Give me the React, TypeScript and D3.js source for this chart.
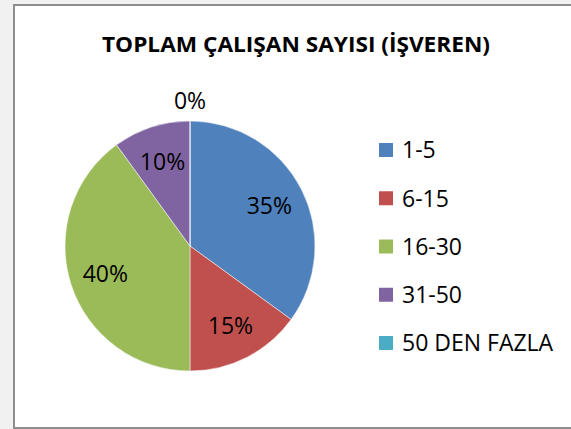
import React from "react";
import * as d3 from "d3";

const categories = ["1-5", "6-15", "16-30", "31-50", "50 DEN FAZLA"];
const values = [35, 15, 40, 10, 0];
const colors = ["#4F81BD", "#C0504D", "#9BBB59", "#8064A2", "#4BACC6"];
const title = "TOPLAM ÇALIŞAN SAYISI (İŞVEREN)";

const W = 571;
const H = 429;
const cx = 190;
const cy = 246;
const R = 125;
const FONT = "'Open Sans', 'Noto Sans', sans-serif";

export default function App() {
  const pie = d3
    .pie<number>()
    .sort(null)
    .value((d) => d)
    .startAngle(0)
    .endAngle(2 * Math.PI);
  const arcs = pie(values);
  const arc = d3.arc<d3.PieArcDatum<number>>().innerRadius(0).outerRadius(R);
  const labelArc = d3
    .arc<d3.PieArcDatum<number>>()
    .innerRadius(89)
    .outerRadius(89);
  const outerArc = d3
    .arc<d3.PieArcDatum<number>>()
    .innerRadius(R + 20)
    .outerRadius(R + 20);

  const legendY = d3
    .scalePoint<string>()
    .domain(categories)
    .range([150, 343]);

  return (
    <div style={{ position: "fixed", left: 0, top: 0 }}>
      <svg width={W} height={H} style={{ display: "block" }}>
        <rect x={0} y={0} width={W} height={H} fill="#f1f1f1" />
        <rect x={14} y={5} width={W + 10} height={423} fill="#ffffff" stroke="#8e8e8e" strokeWidth={2} />
        <text
          x={296}
          y={52}
          textAnchor="middle"
          fontFamily={FONT}
          fontWeight="bold"
          fontSize={22}
          textLength={388}
          lengthAdjust="spacingAndGlyphs"
          fill="#000"
        >
          {title}
        </text>
        <g transform={`translate(${cx},${cy})`}>
          {arcs.map((a, i) => (
            <path key={i} d={arc(a) || ""} fill={colors[i]} stroke="#ffffff" strokeWidth={0.5} />
          ))}
          {arcs.map((a, i) => {
            const [x, y] = a.value === 0 ? outerArc.centroid(a) : labelArc.centroid(a);
            return (
              <text
                key={"l" + i}
                x={x}
                y={y}
                dy="0.36em"
                textAnchor="middle"
                fontFamily={FONT}
                fontSize={23}
                fill="#000"
              >
                {`${a.value}%`}
              </text>
            );
          })}
        </g>
        {categories.map((c, i) => (
          <g key={c} transform={`translate(379,${legendY(c)})`}>
            <rect x={0} y={-7} width={14} height={14} fill={colors[i]} />
            <text x={23} y={0} dy="0.36em" fontFamily={FONT} fontSize={23} fill="#000">
              {c}
            </text>
          </g>
        ))}
      </svg>
    </div>
  );
}
